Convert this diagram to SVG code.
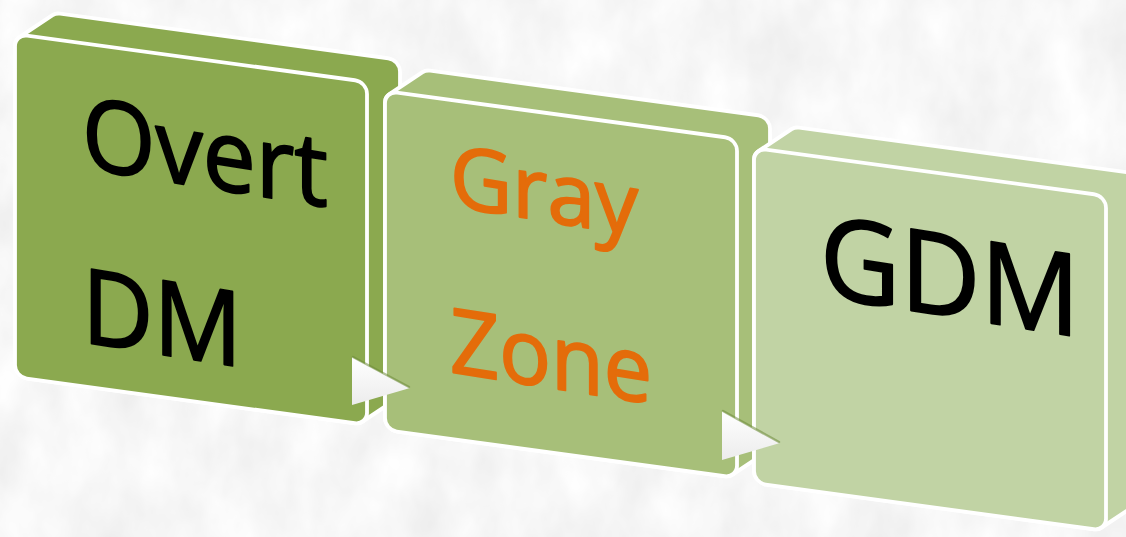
<svg xmlns="http://www.w3.org/2000/svg" width="1126" height="537" viewBox="0 0 1126 537">
  <defs>
    <filter id="tex" x="0" y="0" width="100%" height="100%">
      <feTurbulence type="fractalNoise" baseFrequency="0.02 0.012" numOctaves="4" seed="11"/>
      <feColorMatrix values="0.2 0 0 0 0.83  0.2 0 0 0 0.83  0.2 0 0 0 0.83  0 0 0 0 1"/>
    </filter>
    <linearGradient id="arrowFill" x1="0" y1="0" x2="0" y2="1">
      <stop offset="0" stop-color="#ffffff"/>
      <stop offset="1" stop-color="#ececec"/>
    </linearGradient>
    <style>
      .edge { stroke: #ffffff; stroke-width: 3.8; stroke-linejoin: round; }
      .c1 { fill: #8ba94f; }
      .c2 { fill: #a7bf79; }
      .c3 { fill: #c1d3a4; }
      .lbl { font-family: "Open Sans", "Noto Sans", "Liberation Sans", sans-serif; stroke-width: 2; stroke-linejoin: round; }
      .blk { fill: #000000; stroke: #000000; }
      .org { fill: #e46c0a; stroke: #e46c0a; }
      .arrow { fill: url(#arrowFill); }
      .bevel { fill: none; stroke: #6e8b3a; stroke-opacity: 0.55; stroke-width: 2.5; stroke-linecap: round; }
    </style>
  </defs>

  <rect x="0" y="0" width="1126" height="537" fill="#ebebeb"/>
  <rect x="0" y="0" width="1126" height="537" filter="url(#tex)"/>

  <g id="node-overt-dm">
    <g transform="matrix(1,0.136,0,1,15,34)">
      <path class="c1 edge" d="M0,331 L0,12 A12 12 0 0 1 4.5,2.6 L37.5,-23.9 A12 12 0 0 1 45,-26.5 L373,-26.5 A12 12 0 0 1 385,-14.5 L385,304.5 A12 12 0 0 1 380.5,313.9 L347.5,340.4 A12 12 0 0 1 340,343 L12,343 A12 12 0 0 1 0,331 Z"/>
      <rect class="c1 edge" x="0" y="0" width="352" height="343" rx="12"/>
    </g>
    <text class="lbl blk" transform="translate(82,168) skewY(9)" font-size="100" textLength="246" lengthAdjust="spacingAndGlyphs">Overt</text>
    <text class="lbl blk" transform="translate(82,342) skewY(9)" font-size="104" textLength="160" lengthAdjust="spacingAndGlyphs">DM</text>
  </g>

  <g id="node-gray-zone">
    <g transform="matrix(1,0.136,0,1,385,91)">
      <path class="c2 edge" d="M0,327 L0,12 A12 12 0 0 1 4.5,2.6 L37.5,-23.9 A12 12 0 0 1 45,-26.5 L373,-26.5 A12 12 0 0 1 385,-14.5 L385,300.5 A12 12 0 0 1 380.5,309.9 L347.5,336.4 A12 12 0 0 1 340,339 L12,339 A12 12 0 0 1 0,327 Z"/>
      <rect class="c2 edge" x="0" y="0" width="352" height="339" rx="12"/>
    </g>
    <text class="lbl org" transform="translate(450,206) skewY(9)" font-size="86" textLength="188" lengthAdjust="spacingAndGlyphs">Gray</text>
    <text class="lbl org" transform="translate(450,372) skewY(9)" font-size="90" textLength="202" lengthAdjust="spacingAndGlyphs">Zone</text>
  </g>

  <g id="node-gdm">
    <g transform="matrix(1,0.136,0,1,754,148)">
      <path class="c3 edge" d="M0,323 L0,12 A12 12 0 0 1 4.5,2.6 L37.5,-23.9 A12 12 0 0 1 45,-26.5 L373,-26.5 A12 12 0 0 1 385,-14.5 L385,296.5 A12 12 0 0 1 380.5,305.9 L347.5,332.4 A12 12 0 0 1 340,335 L12,335 A12 12 0 0 1 0,323 Z"/>
      <rect class="c3 edge" x="0" y="0" width="352" height="335" rx="12"/>
    </g>
    <text class="lbl blk" transform="translate(820,296) skewY(9)" font-size="114" textLength="260" lengthAdjust="spacingAndGlyphs">GDM</text>
  </g>

  <g id="connectors">
    <g id="arrow-1">
      <polygon class="arrow" points="352,357 352,405 410,388"/>
      <polyline class="bevel" points="353,357 409,387"/>
    </g>
    <g id="arrow-2">
      <polygon class="arrow" points="722,411 722,460 780,443"/>
      <polyline class="bevel" points="723,411 779,442"/>
    </g>
  </g>
</svg>
